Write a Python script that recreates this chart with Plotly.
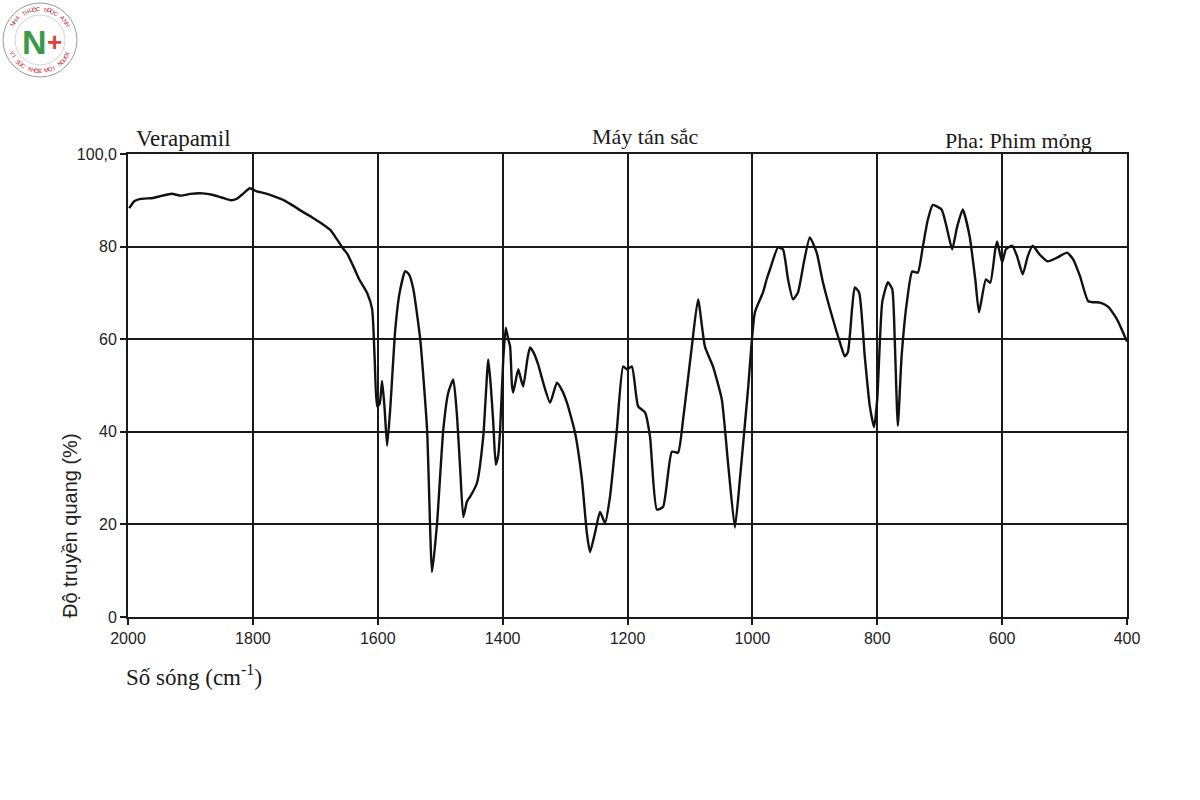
import math
import plotly.graph_objects as go

# ---------------- data ----------------
wavenumber = [1998, 1990, 1980, 1960, 1945, 1930, 1915, 1900, 1880, 1865, 1850, 1835, 1825,
              1815, 1805, 1795, 1780, 1765, 1750, 1735, 1720, 1705, 1690, 1676, 1665, 1655,
              1649, 1640, 1630, 1617, 1609, 1605, 1601, 1597, 1593, 1589, 1585, 1580, 1572,
              1565, 1556, 1550, 1543, 1532, 1521, 1513, 1505, 1495, 1487, 1479, 1473, 1468,
              1463, 1457, 1452, 1441, 1431, 1423, 1419, 1415, 1411, 1407, 1404, 1399, 1395,
              1391, 1388, 1385, 1383, 1375, 1370, 1367, 1360, 1356, 1350, 1343, 1335, 1324,
              1313, 1305, 1297, 1284, 1273, 1265, 1260, 1252, 1244, 1236, 1228, 1217, 1207,
              1201, 1193, 1183, 1172, 1164, 1153, 1143, 1129, 1119, 1111, 1097, 1087, 1076,
              1063, 1049, 1039, 1028, 1020, 1007, 996, 983, 977, 972, 959, 951, 943, 935,
              927, 917, 908, 897, 887, 871, 860, 852, 847, 840, 836, 829, 820, 812, 805,
              800, 792, 783, 776, 772, 767, 761, 752, 744, 735, 727, 719, 711, 697, 689,
              680, 672, 663, 652, 643, 637, 626, 619, 611, 608, 600, 594, 584, 576, 567,
              559, 551, 540, 527, 512, 496, 486, 475, 462, 443, 430, 416, 400]
transmittance = [88.3, 89.8, 90.3, 90.5, 91.0, 91.4, 91.0, 91.4, 91.5, 91.2, 90.6, 90.0, 90.4,
                 91.5, 92.6, 92.0, 91.5, 90.8, 90.0, 88.8, 87.5, 86.3, 85.0, 83.6, 81.5, 79.5,
                 78.5, 76.0, 73.0, 70.0, 66.5, 56.0, 45.5, 46.0, 51.0, 45.0, 37.0, 45.0, 62.0,
                 70.0, 74.7, 74.0, 70.8, 60.0, 40.5, 9.7, 20.3, 40.5, 48.5, 51.3, 43.3, 32.0,
                 21.6, 25.0, 26.0, 29.0, 39.0, 55.6, 50.0, 42.0, 32.9, 35.0, 40.5, 55.6, 62.5,
                 60.0, 58.4, 50.0, 48.5, 53.5, 51.0, 49.8, 56.0, 58.2, 57.0, 54.5, 50.6, 46.3,
                 50.6, 49.0, 46.3, 39.8, 29.7, 18.0, 14.0, 18.2, 22.7, 20.3, 26.0, 40.5, 54.1,
                 53.5, 54.1, 45.5, 44.2, 39.0, 23.2, 23.8, 35.7, 35.5, 42.6, 58.4, 68.6, 58.4,
                 54.1, 47.0, 33.3, 19.3, 29.7, 49.1, 65.8, 70.1, 73.0, 75.0, 79.8, 79.4, 73.0,
                 68.6, 70.1, 77.0, 82.0, 78.7, 72.3, 64.3, 59.4, 56.3, 57.2, 67.1, 71.2, 70.1,
                 56.3, 45.6, 41.0, 47.1, 68.0, 72.3, 70.8, 60.0, 41.3, 56.3, 68.6, 74.6, 74.4,
                 80.0, 85.8, 89.0, 88.0, 84.3, 79.4, 84.3, 88.0, 82.2, 72.9, 65.8, 72.9, 72.2,
                 79.4, 81.1, 76.6, 79.4, 80.2, 77.9, 74.0, 77.9, 80.2, 78.3, 76.8, 77.6, 78.7,
                 77.2, 73.5, 68.2, 67.9, 67.0, 64.3, 59.5]

x_ticks = [2000, 1800, 1600, 1400, 1200, 1000, 800, 600, 400]
y_ticks = [0, 20, 40, 60, 80, 100]
y_tick_labels = ["0", "20", "40", "60", "80", "100,0"]

# ---------------- layout geometry ----------------
W, H = 1200, 800
ML, MR, MT, MB = 128, 73, 154, 183
PW, PH = W - ML - MR, H - MT - MB


def px(xp):
    return (xp - ML) / PW


def py(yp):
    return (H - MB - yp) / PH


fig = go.Figure()
fig.add_trace(go.Scatter(
    x=wavenumber, y=transmittance, mode="lines",
    line=dict(color="#111111", width=2.4, shape="spline", smoothing=0.5),
    hoverinfo="x+y", showlegend=False))

tick_font = dict(family="Liberation Sans, Arial, sans-serif", size=16, color="#222222")
serif = "Liberation Serif, Times New Roman, serif"

fig.update_layout(
    width=W, height=H,
    margin=dict(l=ML, r=MR, t=MT, b=MB, pad=0),
    paper_bgcolor="white", plot_bgcolor="white",
    xaxis=dict(range=[2000, 400], tickvals=x_ticks, ticktext=[str(v) for v in x_ticks],
               showgrid=True, gridcolor="#1a1a1a", gridwidth=1.7,
               showline=True, linecolor="#1a1a1a", linewidth=1.8, mirror=True,
               ticks="outside", ticklen=6, tickcolor="#1a1a1a", tickwidth=1.5,
               tickfont=tick_font, zeroline=False, fixedrange=True),
    yaxis=dict(range=[0, 100], tickvals=y_ticks, ticktext=y_tick_labels,
               showgrid=True, gridcolor="#1a1a1a", gridwidth=1.7,
               showline=True, linecolor="#1a1a1a", linewidth=1.8, mirror=True,
               ticks="outside", ticklen=6, tickcolor="#1a1a1a", tickwidth=1.5,
               tickfont=tick_font, zeroline=False, fixedrange=True),
)

annotations = [
    dict(text="Verapamil", x=px(134), y=py(139), xanchor="left", yanchor="middle",
         font=dict(family=serif, size=23, color="#1a1a1a")),
    dict(text="Máy tán sắc", x=px(645), y=py(137), xanchor="center", yanchor="middle",
         font=dict(family=serif, size=22, color="#1a1a1a")),
    dict(text="Pha: Phim mỏng", x=px(1094), y=py(141), xanchor="right", yanchor="middle",
         font=dict(family=serif, size=22, color="#1a1a1a")),
    dict(text="Độ truyền quang (%)", x=px(70), y=py(526), xanchor="center", yanchor="middle",
         textangle=-90, font=dict(family="Liberation Sans, Arial, sans-serif", size=20, color="#222222")),
    dict(text="Số sóng (cm<sup>-1</sup>)", x=px(124), y=py(675), xanchor="left", yanchor="middle",
         font=dict(family=serif, size=23, color="#1a1a1a")),
]

# ---------------- logo (top-left) ----------------
cx, cy, R = 40, 40, 37
shapes = [
    dict(type="circle", xref="paper", yref="paper",
         x0=px(cx - R), x1=px(cx + R), y0=py(cy + R), y1=py(cy - R),
         line=dict(color="#9a9a9a", width=1), fillcolor="white", layer="above"),
    dict(type="circle", xref="paper", yref="paper",
         x0=px(cx - 25), x1=px(cx + 25), y0=py(cy + 25), y1=py(cy - 25),
         line=dict(color="#c8c8c8", width=0.8), layer="above"),
]
annotations += [
    dict(text="<b>N</b>", x=px(34), y=py(42), xanchor="center", yanchor="middle",
         font=dict(family="Liberation Sans, Arial", size=34, color="#3a9a48")),
    dict(text="<b>+</b>", x=px(54), y=py(42), xanchor="center", yanchor="middle",
         font=dict(family="Liberation Sans, Arial", size=26, color="#e0403a")),
]
top_txt = "NHÀ THUỐC NGỌC ANH"
bot_txt = "VÌ SỨC KHỎE MỌI NGƯỜI"
r_txt = 31
for i, ch in enumerate(top_txt):
    if ch == " ":
        continue
    ang = 150 - i * (120 / (len(top_txt) - 1))
    a = math.radians(ang)
    annotations.append(dict(text=ch, x=px(cx + r_txt * math.cos(a)), y=py(cy - r_txt * math.sin(a)),
                            xanchor="center", yanchor="middle", textangle=90 - ang,
                            font=dict(family="Liberation Sans, Arial", size=6, color="#b03030")))
for i, ch in enumerate(bot_txt):
    if ch == " ":
        continue
    ang = 205 + i * (130 / (len(bot_txt) - 1))
    a = math.radians(ang)
    annotations.append(dict(text=ch, x=px(cx + r_txt * math.cos(a)), y=py(cy - r_txt * math.sin(a)),
                            xanchor="center", yanchor="middle", textangle=270 - ang,
                            font=dict(family="Liberation Sans, Arial", size=6, color="#d02020")))

for a in annotations:
    a.update(xref="paper", yref="paper", showarrow=False)
fig.update_layout(annotations=annotations, shapes=shapes)

fig.write_html("out.html")
